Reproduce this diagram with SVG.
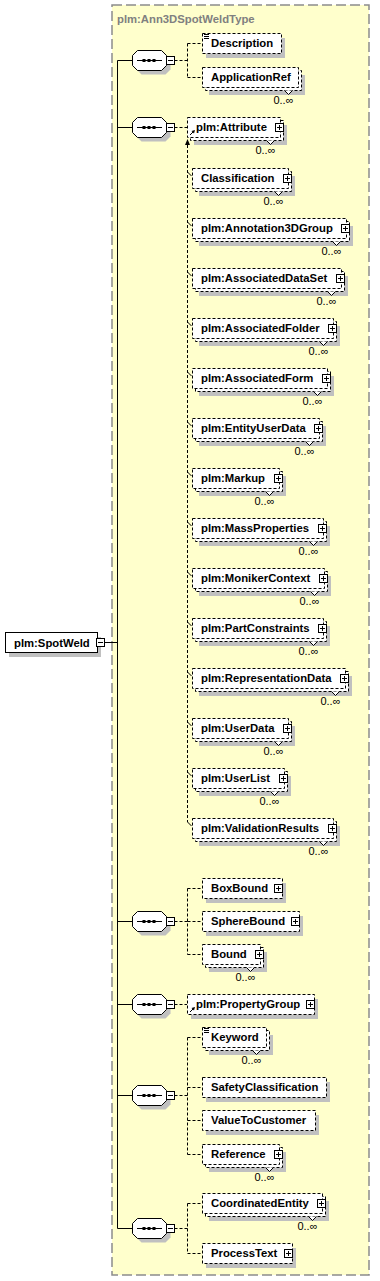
<svg xmlns="http://www.w3.org/2000/svg" xmlns:xlink="http://www.w3.org/1999/xlink" width="380" height="1281" viewBox="0 0 380 1281">
<style>
.bg{fill:#FFFFCC;stroke:#8C8C8C;stroke-width:1.5;stroke-dasharray:10,4}
.sh{fill:#C0C0C0}
.eb{fill:#fff;stroke:#000;stroke-width:1;stroke-dasharray:3,2}
.rb{fill:#fff;stroke:#000;stroke-width:1}
.t{font-family:"Liberation Sans",Arial,sans-serif;font-size:11.3px;font-weight:bold;fill:#000}
.tt{font-family:"Liberation Sans",Arial,sans-serif;font-size:11.3px;font-weight:bold;fill:#808080}
.m{font-family:"Liberation Sans",Arial,sans-serif;font-size:11px;fill:#000;text-anchor:end}
.ln{fill:none;stroke:#000;stroke-width:1}
.dl{fill:none;stroke:#000;stroke-width:1;stroke-dasharray:3,2}
.v{fill:#fff;stroke:#000;stroke-width:1}
</style>
<defs>
<g id="plus"><rect x="0.5" y="0.5" width="8" height="8" class="rb"/><path d="M2 4.5H7M4.5 2V7" class="ln"/></g>
<g id="seq">
<polygon class="sh" points="141.5,-5.5 165.5,-5.5 170.5,-0.5 170.5,9.5 165.5,14.5 141.5,14.5 136.5,9.5 136.5,-0.5"/>
<polygon class="rb" points="137.5,-9.5 161.5,-9.5 166.5,-4.5 166.5,5.5 161.5,10.5 137.5,10.5 132.5,5.5 132.5,-4.5"/>
<path d="M137 0.5H162" class="ln"/>
<rect x="142.5" y="-1" width="3" height="3"/><rect x="147.5" y="-1" width="3" height="3"/><rect x="152.5" y="-1" width="3" height="3"/>
<rect x="166.5" y="-3.5" width="8" height="8" class="rb"/><path d="M168 0.5H173" class="ln"/>
</g>
</defs>

<g id="type-box">
<rect class="bg" x="112" y="5" width="257" height="1270"/>
<text class="tt" x="117" y="23">plm:Ann3DSpotWeldType</text>
</g>

<g id="connectors">
<path class="ln" d="M105 642.5H117.5M117.5 60.5V1228.5M117.5 60.5H132.5M117.5 127.5H132.5M117.5 921.5H132.5M117.5 1004.5H132.5M117.5 1095.5H132.5M117.5 1228.5H132.5"/>
<path class="dl" d="M174.5 60.5H187.5M187.5 43.5V77.5M187.5 43.5H202M187.5 77.5H202"/>
<path class="dl" d="M174.5 127.5H187"/>
<path class="dl" d="M187.5 145V822"/>
<polygon points="187.5,139 185,145 190,145" fill="#000"/>
<path class="ln" d="M187.5 172L191.5 176M187.5 222L191.5 226M187.5 272L191.5 276M187.5 322L191.5 326M187.5 372L191.5 376M187.5 422L191.5 426M187.5 472L191.5 476M187.5 522L191.5 526M187.5 572L191.5 576M187.5 622L191.5 626M187.5 672L191.5 676M187.5 722L191.5 726M187.5 772L191.5 776M187.5 822L191.5 826"/>
<path class="dl" d="M174.5 921.5H187.5M187.5 888.5V954.5M187.5 888.5H202M187.5 921.5H202M187.5 954.5H202"/>
<path class="dl" d="M174.5 1004.5H187"/>
<path class="dl" d="M174.5 1095.5H187.5M187.5 1037.5V1154.5M187.5 1037.5H202M187.5 1087.5H202M187.5 1120.5H202M187.5 1154.5H202"/>
<path class="dl" d="M174.5 1228.5H187.5M187.5 1203.5V1253.5M187.5 1203.5H202M187.5 1253.5H202"/>
</g>

<g id="n-spotweld">
<rect class="sh" x="9" y="637" width="92" height="20"/>
<rect class="rb" x="5.5" y="632.5" width="92" height="20"/>
<text class="t" x="14" y="647">plm:SpotWeld</text>
<rect x="96.5" y="638.5" width="8" height="8" class="rb"/><path d="M98 642.5H103" class="ln"/>
</g>

<g id="seq1"><use xlink:href="#seq" href="#seq" y="60"/></g>
<g id="seq2"><use xlink:href="#seq" href="#seq" y="127"/></g>
<g id="seq3"><use xlink:href="#seq" href="#seq" y="921"/></g>
<g id="seq4"><use xlink:href="#seq" href="#seq" y="1004"/></g>
<g id="seq5"><use xlink:href="#seq" href="#seq" y="1095"/></g>
<g id="seq6"><use xlink:href="#seq" href="#seq" y="1228"/></g>

<g id="n-description">
<rect class="sh" x="206" y="38" width="79" height="20"/>
<rect class="eb" x="202.5" y="33.5" width="79" height="20"/>
<path class="ln" d="M204 34.5H209M204 36.5H209M204 38.5H209"/>
<text class="t" x="211" y="47">Description</text>
</g>

<g id="n-applicationref">
<rect class="sh" x="209" y="75" width="96" height="20"/>
<rect class="eb" x="205.5" y="70.5" width="96" height="20"/>
<rect class="eb" x="202.5" y="67.5" width="96" height="20"/>
<polyline class="v" points="284.5,90.5 288.5,94.5 292.5,90.5"/>
<text class="t" x="211" y="81">ApplicationRef</text>
<text class="m" x="293.5" y="104">0..∞</text>
</g>

<g id="n-attribute">
<rect class="sh" x="194" y="125" width="93" height="20"/>
<rect class="eb" x="190.5" y="120.5" width="93" height="20"/>
<rect class="eb" x="187.5" y="117.5" width="93" height="20"/>
<polyline class="v" points="266.5,140.5 270.5,144.5 274.5,140.5"/>
<text class="t" x="196" y="131">plm:Attribute</text>
<use xlink:href="#plus" href="#plus" x="275" y="123"/>
<path class="ln" d="M190 135L193.5 131.5"/><polygon points="195,130 191.5,131 194,133.5" fill="#000"/>
<text class="m" x="275.5" y="154">0..∞</text>
</g>

<g id="n-classification">
<rect class="sh" x="199" y="176" width="96" height="20"/>
<rect class="eb" x="195.5" y="171.5" width="96" height="20"/>
<rect class="eb" x="192.5" y="168.5" width="96" height="20"/>
<polyline class="v" points="274.5,191.5 278.5,195.5 282.5,191.5"/>
<text class="t" x="201" y="182">Classification</text>
<use xlink:href="#plus" href="#plus" x="283" y="174"/>
<text class="m" x="283.5" y="205">0..∞</text>
</g>

<g id="n-annotation3dgroup">
<rect class="sh" x="199" y="226" width="154" height="20"/>
<rect class="eb" x="195.5" y="221.5" width="154" height="20"/>
<rect class="eb" x="192.5" y="218.5" width="154" height="20"/>
<polyline class="v" points="332.5,241.5 336.5,245.5 340.5,241.5"/>
<text class="t" x="201" y="232">plm:Annotation3DGroup</text>
<use xlink:href="#plus" href="#plus" x="341" y="224"/>
<text class="m" x="341.5" y="255">0..∞</text>
</g>

<g id="n-associateddataset">
<rect class="sh" x="199" y="276" width="149" height="20"/>
<rect class="eb" x="195.5" y="271.5" width="149" height="20"/>
<rect class="eb" x="192.5" y="268.5" width="149" height="20"/>
<polyline class="v" points="327.5,291.5 331.5,295.5 335.5,291.5"/>
<text class="t" x="201" y="282">plm:AssociatedDataSet</text>
<use xlink:href="#plus" href="#plus" x="336" y="274"/>
<text class="m" x="336.5" y="305">0..∞</text>
</g>

<g id="n-associatedfolder">
<rect class="sh" x="199" y="326" width="141" height="20"/>
<rect class="eb" x="195.5" y="321.5" width="141" height="20"/>
<rect class="eb" x="192.5" y="318.5" width="141" height="20"/>
<polyline class="v" points="319.5,341.5 323.5,345.5 327.5,341.5"/>
<text class="t" x="201" y="332">plm:AssociatedFolder</text>
<use xlink:href="#plus" href="#plus" x="328" y="324"/>
<text class="m" x="328.5" y="355">0..∞</text>
</g>

<g id="n-associatedform">
<rect class="sh" x="199" y="376" width="135" height="20"/>
<rect class="eb" x="195.5" y="371.5" width="135" height="20"/>
<rect class="eb" x="192.5" y="368.5" width="135" height="20"/>
<polyline class="v" points="313.5,391.5 317.5,395.5 321.5,391.5"/>
<text class="t" x="201" y="382">plm:AssociatedForm</text>
<use xlink:href="#plus" href="#plus" x="322" y="374"/>
<text class="m" x="322.5" y="405">0..∞</text>
</g>

<g id="n-entityuserdata">
<rect class="sh" x="199" y="426" width="127" height="20"/>
<rect class="eb" x="195.5" y="421.5" width="127" height="20"/>
<rect class="eb" x="192.5" y="418.5" width="127" height="20"/>
<polyline class="v" points="305.5,441.5 309.5,445.5 313.5,441.5"/>
<text class="t" x="201" y="432">plm:EntityUserData</text>
<use xlink:href="#plus" href="#plus" x="314" y="424"/>
<text class="m" x="314.5" y="455">0..∞</text>
</g>

<g id="n-markup">
<rect class="sh" x="199" y="476" width="87" height="20"/>
<rect class="eb" x="195.5" y="471.5" width="87" height="20"/>
<rect class="eb" x="192.5" y="468.5" width="87" height="20"/>
<polyline class="v" points="265.5,491.5 269.5,495.5 273.5,491.5"/>
<text class="t" x="201" y="482">plm:Markup</text>
<use xlink:href="#plus" href="#plus" x="274" y="474"/>
<text class="m" x="274.5" y="505">0..∞</text>
</g>

<g id="n-massproperties">
<rect class="sh" x="199" y="526" width="131" height="20"/>
<rect class="eb" x="195.5" y="521.5" width="131" height="20"/>
<rect class="eb" x="192.5" y="518.5" width="131" height="20"/>
<polyline class="v" points="309.5,541.5 313.5,545.5 317.5,541.5"/>
<text class="t" x="201" y="532">plm:MassProperties</text>
<use xlink:href="#plus" href="#plus" x="318" y="524"/>
<text class="m" x="318.5" y="555">0..∞</text>
</g>

<g id="n-monikercontext">
<rect class="sh" x="199" y="576" width="132" height="20"/>
<rect class="eb" x="195.5" y="571.5" width="132" height="20"/>
<rect class="eb" x="192.5" y="568.5" width="132" height="20"/>
<polyline class="v" points="310.5,591.5 314.5,595.5 318.5,591.5"/>
<text class="t" x="201" y="582">plm:MonikerContext</text>
<use xlink:href="#plus" href="#plus" x="319" y="574"/>
<text class="m" x="319.5" y="605">0..∞</text>
</g>

<g id="n-partconstraints">
<rect class="sh" x="199" y="626" width="131" height="20"/>
<rect class="eb" x="195.5" y="621.5" width="131" height="20"/>
<rect class="eb" x="192.5" y="618.5" width="131" height="20"/>
<polyline class="v" points="309.5,641.5 313.5,645.5 317.5,641.5"/>
<text class="t" x="201" y="632">plm:PartConstraints</text>
<use xlink:href="#plus" href="#plus" x="318" y="624"/>
<text class="m" x="318.5" y="655">0..∞</text>
</g>

<g id="n-representationdata">
<rect class="sh" x="199" y="676" width="153" height="20"/>
<rect class="eb" x="195.5" y="671.5" width="153" height="20"/>
<rect class="eb" x="192.5" y="668.5" width="153" height="20"/>
<polyline class="v" points="331.5,691.5 335.5,695.5 339.5,691.5"/>
<text class="t" x="201" y="682">plm:RepresentationData</text>
<use xlink:href="#plus" href="#plus" x="340" y="674"/>
<text class="m" x="340.5" y="705">0..∞</text>
</g>

<g id="n-userdata">
<rect class="sh" x="199" y="726" width="96" height="20"/>
<rect class="eb" x="195.5" y="721.5" width="96" height="20"/>
<rect class="eb" x="192.5" y="718.5" width="96" height="20"/>
<polyline class="v" points="274.5,741.5 278.5,745.5 282.5,741.5"/>
<text class="t" x="201" y="732">plm:UserData</text>
<use xlink:href="#plus" href="#plus" x="283" y="724"/>
<text class="m" x="283.5" y="755">0..∞</text>
</g>

<g id="n-userlist">
<rect class="sh" x="199" y="776" width="92" height="20"/>
<rect class="eb" x="195.5" y="771.5" width="92" height="20"/>
<rect class="eb" x="192.5" y="768.5" width="92" height="20"/>
<polyline class="v" points="270.5,791.5 274.5,795.5 278.5,791.5"/>
<text class="t" x="201" y="782">plm:UserList</text>
<use xlink:href="#plus" href="#plus" x="279" y="774"/>
<text class="m" x="279.5" y="805">0..∞</text>
</g>

<g id="n-validationresults">
<rect class="sh" x="199" y="826" width="141" height="20"/>
<rect class="eb" x="195.5" y="821.5" width="141" height="20"/>
<rect class="eb" x="192.5" y="818.5" width="141" height="20"/>
<polyline class="v" points="319.5,841.5 323.5,845.5 327.5,841.5"/>
<text class="t" x="201" y="832">plm:ValidationResults</text>
<use xlink:href="#plus" href="#plus" x="328" y="824"/>
<text class="m" x="328.5" y="855">0..∞</text>
</g>

<g id="n-boxbound">
<rect class="sh" x="206" y="883" width="80" height="20"/>
<rect class="eb" x="202.5" y="878.5" width="80" height="20"/>
<text class="t" x="211" y="892">BoxBound</text>
<use xlink:href="#plus" href="#plus" x="274" y="884"/>
</g>

<g id="n-spherebound">
<rect class="sh" x="206" y="916" width="97" height="20"/>
<rect class="eb" x="202.5" y="911.5" width="97" height="20"/>
<text class="t" x="211" y="925">SphereBound</text>
<use xlink:href="#plus" href="#plus" x="291" y="917"/>
</g>

<g id="n-bound">
<rect class="sh" x="209" y="952" width="58" height="20"/>
<rect class="eb" x="205.5" y="947.5" width="58" height="20"/>
<rect class="eb" x="202.5" y="944.5" width="58" height="20"/>
<polyline class="v" points="246.5,967.5 250.5,971.5 254.5,967.5"/>
<text class="t" x="211" y="958">Bound</text>
<use xlink:href="#plus" href="#plus" x="255" y="950"/>
<text class="m" x="255.5" y="981">0..∞</text>
</g>

<g id="n-propertygroup">
<rect class="sh" x="191" y="999" width="127" height="20"/>
<rect class="eb" x="187.5" y="994.5" width="127" height="20"/>
<text class="t" x="196" y="1008">plm:PropertyGroup</text>
<use xlink:href="#plus" href="#plus" x="306" y="1000"/>
<path class="ln" d="M190 1012L193.5 1008.5"/><polygon points="195,1007 191.5,1008 194,1010.5" fill="#000"/>
</g>

<g id="n-keyword">
<rect class="sh" x="209" y="1035" width="64" height="20"/>
<rect class="eb" x="205.5" y="1030.5" width="64" height="20"/>
<rect class="eb" x="202.5" y="1027.5" width="64" height="20"/>
<polyline class="v" points="252.5,1050.5 256.5,1054.5 260.5,1050.5"/>
<path class="ln" d="M204 1028.5H209M204 1030.5H209M204 1032.5H209"/>
<text class="t" x="211" y="1041">Keyword</text>
<text class="m" x="261.5" y="1064">0..∞</text>
</g>

<g id="n-safetyclassification">
<rect class="sh" x="206" y="1082" width="124" height="20"/>
<rect class="eb" x="202.5" y="1077.5" width="124" height="20"/>
<text class="t" x="211" y="1091">SafetyClassification</text>
</g>

<g id="n-valuetocustomer">
<rect class="sh" x="206" y="1115" width="113" height="20"/>
<rect class="eb" x="202.5" y="1110.5" width="113" height="20"/>
<text class="t" x="211" y="1124">ValueToCustomer</text>
</g>

<g id="n-reference">
<rect class="sh" x="209" y="1152" width="77" height="20"/>
<rect class="eb" x="205.5" y="1147.5" width="77" height="20"/>
<rect class="eb" x="202.5" y="1144.5" width="77" height="20"/>
<polyline class="v" points="265.5,1167.5 269.5,1171.5 273.5,1167.5"/>
<text class="t" x="211" y="1158">Reference</text>
<use xlink:href="#plus" href="#plus" x="274" y="1150"/>
<text class="m" x="274.5" y="1181">0..∞</text>
</g>

<g id="n-coordinatedentity">
<rect class="sh" x="209" y="1201" width="120" height="20"/>
<rect class="eb" x="205.5" y="1196.5" width="120" height="20"/>
<rect class="eb" x="202.5" y="1193.5" width="120" height="20"/>
<polyline class="v" points="308.5,1216.5 312.5,1220.5 316.5,1216.5"/>
<text class="t" x="211" y="1207">CoordinatedEntity</text>
<use xlink:href="#plus" href="#plus" x="317" y="1199"/>
<text class="m" x="317.5" y="1230">0..∞</text>
</g>

<g id="n-processtext">
<rect class="sh" x="206" y="1248" width="90" height="20"/>
<rect class="eb" x="202.5" y="1243.5" width="90" height="20"/>
<text class="t" x="211" y="1257">ProcessText</text>
<use xlink:href="#plus" href="#plus" x="284" y="1249"/>
</g>
</svg>
